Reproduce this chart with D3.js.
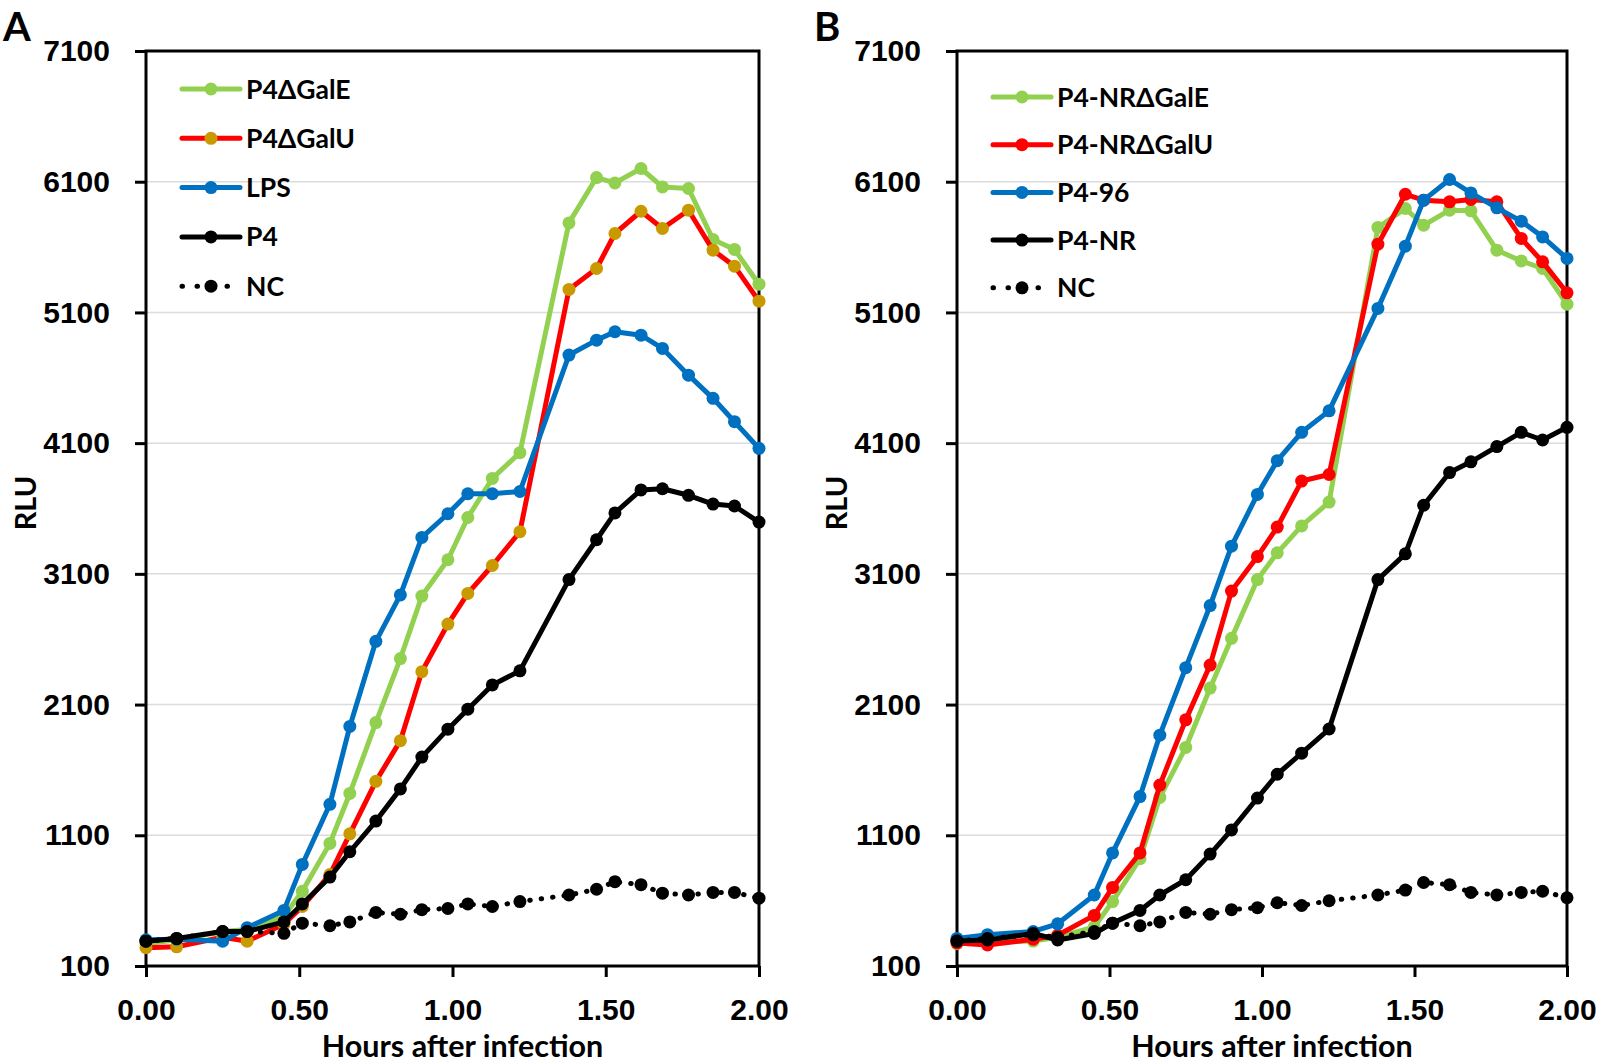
<!DOCTYPE html>
<html>
<head>
<meta charset="utf-8">
<script src="https://cdn.jsdelivr.net/npm/d3@7"></script>
<style>
  body { margin: 0; background: #fff; }
  svg { display: block; font-family: Lato, "Open Sans", sans-serif; font-weight: bold; }
</style>
</head>
<body>
<svg id="chart" width="1601" height="1064"></svg>
<script>
// time points (hours after infection)
const hours = [0, 0.10, 0.25, 0.33, 0.45, 0.51, 0.60, 0.665, 0.75, 0.83, 0.90, 0.985,
               1.05, 1.13, 1.22, 1.38, 1.47, 1.53, 1.615, 1.685, 1.77, 1.85, 1.92, 2.0];

// panel A
const p4GalE = [270, 300, 364, 379, 481, 672, 1038, 1420, 1962, 2452, 2930, 3208, 3531, 3830, 4027, 5785, 6132, 6091, 6201, 6060, 6048, 5658, 5582, 5316];
const p4GalU = [240, 247, 320, 290, 420, 555, 800, 1111, 1513, 1824, 2352, 2716, 2950, 3164, 3422, 5276, 5436, 5704, 5874, 5742, 5882, 5576, 5454, 5186];
const lps    = [300, 305, 290, 393, 525, 877, 1337, 1933, 2584, 2939, 3379, 3560, 3713, 3713, 3730, 4774, 4888, 4952, 4926, 4825, 4620, 4443, 4264, 4060];
const p4     = [290, 311, 364, 364, 437, 575, 780, 974, 1209, 1455, 1698, 1912, 2065, 2250, 2358, 3056, 3361, 3566, 3742, 3751, 3701, 3634, 3619, 3496];
const ncA    = [290, 311, 364, 364, 350, 428, 408, 437, 510, 496, 531, 540, 575, 555, 593, 643, 687, 745, 722, 657, 643, 663, 663, 619];

// panel B
const nrGalE = [270, 282, 291, 320, 399, 593, 921, 1390, 1772, 2226, 2607, 3056, 3261, 3467, 3649, 5750, 5895, 5767, 5882, 5877, 5576, 5494, 5436, 5163];
const nrGalU = [276, 261, 305, 335, 487, 701, 965, 1484, 1983, 2402, 2968, 3232, 3458, 3810, 3860, 5622, 6004, 5959, 5946, 5964, 5946, 5666, 5487, 5250];
const p496   = [311, 340, 364, 423, 643, 965, 1396, 1866, 2382, 2857, 3312, 3708, 3966, 4183, 4347, 5131, 5607, 5959, 6117, 6014, 5900, 5798, 5678, 5513];
const p4nr   = [291, 299, 349, 299, 349, 428, 525, 643, 760, 956, 1141, 1385, 1567, 1728, 1913, 3056, 3253, 3625, 3875, 3957, 4074, 4183, 4124, 4221];
const ncB    = [291, 311, 340, 320, 364, 428, 408, 437, 510, 496, 531, 546, 584, 563, 599, 643, 681, 739, 722, 663, 643, 663, 672, 622];

const namesA = ["P4\u0394GalE", "P4\u0394GalU", "LPS", "P4", "NC"];
const namesB = ["P4-NR\u0394GalE", "P4-NR\u0394GalU", "P4-96", "P4-NR", "NC"];

const yTicks = [100, 1100, 2100, 3100, 4100, 5100, 6100, 7100];
const xTicks = [0, 0.5, 1, 1.5, 2];

const svg = d3.select("#chart");

function drawPanel(opt) {
  const g = svg.append("g");
  const x = d3.scaleLinear().domain([0, 2]).range([opt.x0, opt.x1]);
  const y = d3.scaleLinear().domain([100, 7100]).range([966, 51]);

  // gridlines
  g.selectAll(".grid").data(yTicks.slice(1, -1)).enter().append("line")
    .attr("x1", opt.x0).attr("x2", opt.x1)
    .attr("y1", d => y(d)).attr("y2", d => y(d))
    .attr("stroke", "#dcdcdc").attr("stroke-width", 1.5);

  // y axis
  const ya = g.append("g").attr("transform", `translate(${opt.x0},0)`)
    .call(d3.axisLeft(y).tickValues(yTicks).tickFormat(d3.format("d")).tickSize(11).tickPadding(25));
  ya.select(".domain").remove();
  ya.selectAll("line").attr("stroke", "#000").attr("stroke-width", 3);
  ya.selectAll("text").attr("font-size", 30).attr("font-family", null).attr("fill", "#000");

  // x axis
  const xa = g.append("g").attr("transform", "translate(0,966)")
    .call(d3.axisBottom(x).tickValues(xTicks).tickFormat(d3.format(".2f")).tickSize(11));
  xa.select(".domain").remove();
  xa.selectAll("line").attr("stroke", "#000").attr("stroke-width", 3);
  xa.selectAll("text").attr("font-size", 30).attr("font-family", null).attr("fill", "#000")
    .attr("y", 43).attr("dy", "0.35em");

  // frame
  g.append("rect").attr("x", opt.x0).attr("y", 51)
    .attr("width", opt.x1 - opt.x0).attr("height", 966 - 51)
    .attr("fill", "none").attr("stroke", "#000").attr("stroke-width", 3);

  // titles
  g.append("text").attr("x", (opt.x0 + opt.x1) / 2 + 10).attr("y", 1057)
    .attr("text-anchor", "middle").attr("font-size", 30.5).text("Hours after infection");
  g.append("text").attr("transform", `translate(${opt.x0 - 120},503) rotate(-90)`)
    .attr("text-anchor", "middle").attr("dy", "0.35em").attr("font-size", 29).text("RLU");
  g.append("text").attr("x", opt.x0 - 143).attr("y", 41)
    .attr("font-size", 40).text(opt.letter);

  const line = d3.line().x((d, i) => x(hours[i])).y(d => y(d));

  opt.series.forEach(s => {
    const sg = g.append("g");
    sg.append("path").datum(s.values)
      .attr("d", line).attr("fill", "none")
      .attr("stroke", s.color).attr("stroke-width", 5)
      .attr("stroke-linejoin", "round").attr("stroke-linecap", "round")
      .attr("stroke-dasharray", s.dotted ? "0.5 11" : null);
    sg.selectAll("circle").data(s.values).enter().append("circle")
      .attr("cx", (d, i) => x(hours[i])).attr("cy", d => y(d))
      .attr("r", 6.5).attr("fill", s.marker);
  });

  // legend
  const lg = g.append("g");
  opt.series.forEach((s, i) => {
    const cy = opt.legY + i * opt.legStep;
    const lx = opt.x0 + 36;
    lg.append("line").attr("x1", lx).attr("x2", lx + 58).attr("y1", cy).attr("y2", cy)
      .attr("stroke", s.color).attr("stroke-width", 5).attr("stroke-linecap", "round")
      .attr("stroke-dasharray", s.dotted ? "0.5 14.5" : null);
    lg.append("circle").attr("cx", lx + 29).attr("cy", cy).attr("r", 6.5).attr("fill", s.marker);
    lg.append("text").attr("x", lx + 64).attr("y", cy).attr("dy", "0.36em")
      .attr("font-size", 26.5).text(s.name);
  });
}

drawPanel({
  x0: 146, x1: 759, letter: "A", legY: 89, legStep: 49.3,
  series: [
    { name: namesA[0], values: p4GalE, color: "#92D050", marker: "#92D050" },
    { name: namesA[1], values: p4GalU, color: "#FF0000", marker: "#C99A00" },
    { name: namesA[2], values: lps, color: "#0070C0", marker: "#0070C0" },
    { name: namesA[3], values: p4, color: "#000000", marker: "#000000" },
    { name: namesA[4], values: ncA, color: "#000000", marker: "#000000", dotted: true }
  ]
});

drawPanel({
  x0: 957, x1: 1567, letter: "B", legY: 97, legStep: 47.7,
  series: [
    { name: namesB[0], values: nrGalE, color: "#92D050", marker: "#92D050" },
    { name: namesB[1], values: nrGalU, color: "#FF0000", marker: "#FF0000" },
    { name: namesB[2], values: p496, color: "#0070C0", marker: "#0070C0" },
    { name: namesB[3], values: p4nr, color: "#000000", marker: "#000000" },
    { name: namesB[4], values: ncB, color: "#000000", marker: "#000000", dotted: true }
  ]
});
</script>
</body>
</html>
